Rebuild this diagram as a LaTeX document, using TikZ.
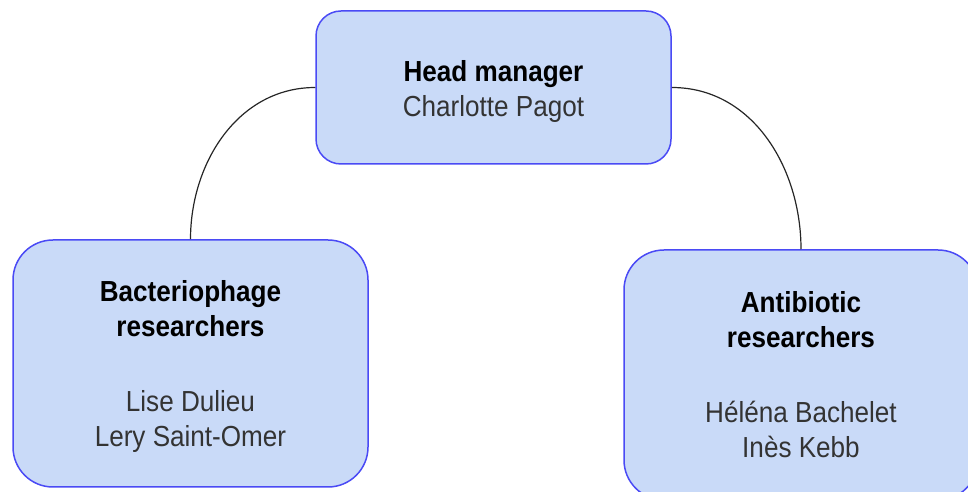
\documentclass[tikz,border=0pt]{standalone}
\usepackage{fontspec}
\setmainfont{Liberation Sans}[FakeStretch=0.9]
\definecolor{boxfill}{HTML}{C9DAF8}
\definecolor{boxdraw}{HTML}{4A4AF5}
\definecolor{nametext}{HTML}{333333}
\begin{document}
\begin{tikzpicture}[x=1pt,y=1pt,
  box/.style={draw=boxdraw, fill=boxfill, line width=1.5pt, rounded corners=#1, inner sep=0pt},
  txt/.style={align=center, inner sep=0pt, font=\fontsize{29}{35}\selectfont},
  conn/.style={draw=black!85, line width=1.2pt}]
\useasboundingbox (0,0) rectangle (968,492);
\clip (0,0) rectangle (968,492);
% boxes
\node[box=25pt, minimum width=355, minimum height=153] (head) at (493.5,404.5) {};
\node[box=40pt, minimum width=355, minimum height=247] (left) at (190.5,128.5) {};
\node[box=40pt, minimum width=354, minimum height=250] (right) at (801,117) {};
% connectors
\draw[conn] (head.west) to[out=180,in=90] (left.north);
\draw[conn] (head.east) to[out=0,in=90] (right.north);
% texts
\node[txt] (headtxt) at ([yshift=-4pt]head.center) {\textbf{Head manager}\\\textcolor{nametext}{Charlotte Pagot}};
\node[txt] (lefttxt) at ([yshift=-3pt]left.center) {\textbf{Bacteriophage}\\\textbf{researchers}\\[40pt]\textcolor{nametext}{Lise Dulieu}\\\textcolor{nametext}{Lery Saint-Omer}};
\node[txt] (righttxt) at ([yshift=0pt]right.center) {\textbf{Antibiotic}\\\textbf{researchers}\\[40pt]\textcolor{nametext}{Héléna Bachelet}\\\textcolor{nametext}{Inès Kebb}};
\end{tikzpicture}
\end{document}
